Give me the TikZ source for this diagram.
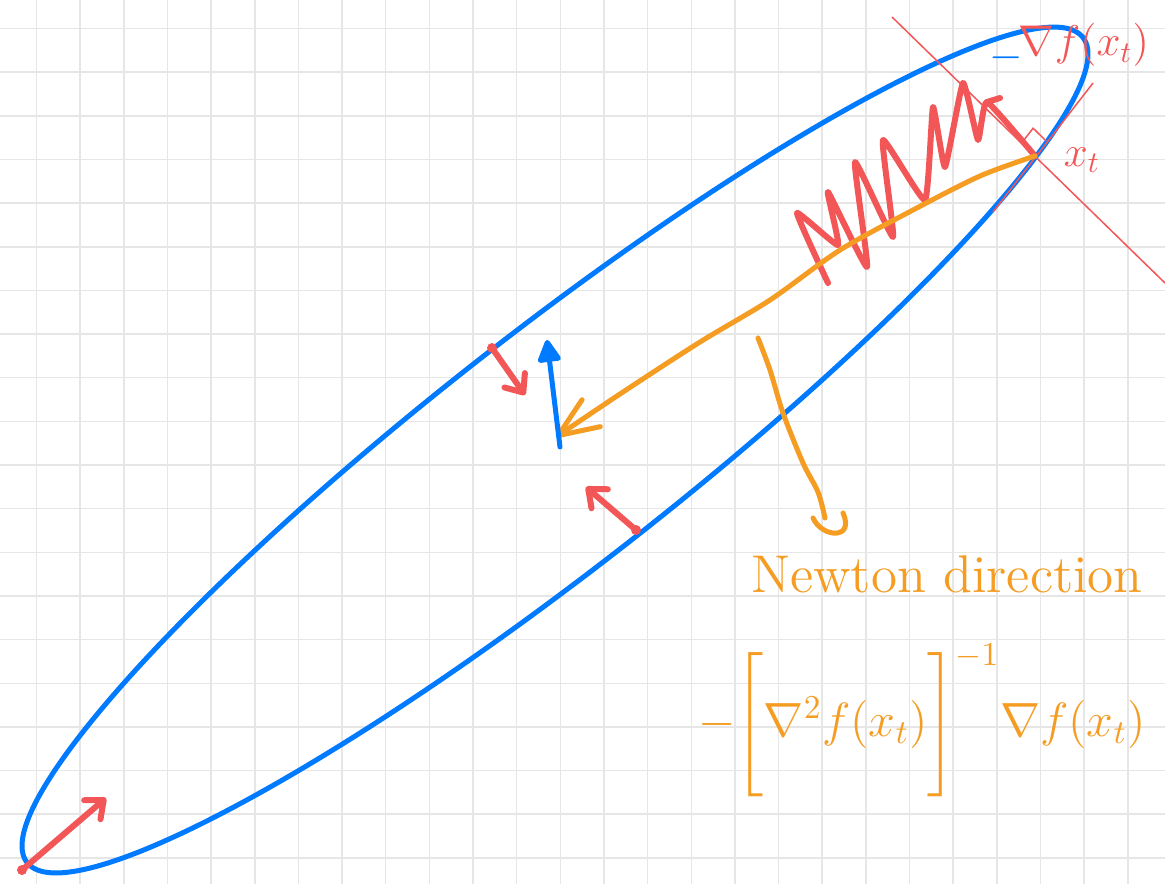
\documentclass[tikz,border=0pt]{standalone}
\usepackage{amsmath}
\usetikzlibrary{arrows.meta}
\definecolor{penblue}{RGB}{0,122,255}
\definecolor{penred}{RGB}{242,86,86}
\definecolor{penorange}{RGB}{245,157,35}
\definecolor{gridgray}{RGB}{230,230,230}

\begin{document}
\begin{tikzpicture}[x=0.2mm, y=-0.2mm,
  gridline/.style={draw=gridgray, line width=0.3mm},
  bluepen/.style={draw=penblue, line width=1mm, line cap=round, line join=round},
  redpen/.style={draw=penred, line width=1.2mm, line cap=round, line join=round},
  orangepen/.style={draw=penorange, line width=1mm, line cap=round, line join=round},
  thinred/.style={draw=penred, line width=0.3mm},
  barb/.style={-{Straight Barb[length=3mm, width=5mm, round]}},
  dot/.style={circle, fill=penred, inner sep=0pt, minimum size=2mm},
  hand/.style={inner sep=0pt, font=\Large}]

\useasboundingbox (0,0) rectangle (1165,884);
\fill[white] (0,0) rectangle (1165,884);

% --- squared paper
\foreach \i in {0,...,25}
  \draw[gridline] (36.5+43.65*\i,0) -- (36.5+43.65*\i,884);
\foreach \j in {0,...,19}
  \draw[gridline] (0,28.5+43.65*\j) -- (1165,28.5+43.65*\j);

% --- level set of f
\coordinate (ctr) at (555,450);
\draw[bluepen, rotate around={38:(ctr)}] (ctr) ellipse [x radius=670, y radius=118];

% --- current iterate, tangent and normal
\coordinate (xt) at (1035,156);
\draw[thinred] (993,212) -- (1093,83);
\draw[thinred] (892,17) -- (1165,283);
\draw[thinred] (1046,140.8) -- (1033.1,128.2) -- (1022.1,142.4);

% --- gradient steps zig-zag down the valley
\draw[redpen] plot[smooth, tension=0.25] coordinates {(xt) (987,102) (978,140)
  (963,83) (945,167) (933,107) (925,200) (883,140) (893,237) (855,162)
  (867,267) (828,192) (838,245) (797,213) (828,283)};
\draw[redpen] (987,102) -- (1000,98);

% --- Newton step straight to the centre
\draw[orangepen, -{Straight Barb[length=8mm, width=6.5mm, round]}] plot[smooth, tension=0.5]
  coordinates {(xt) (980,176) (913,210) (840,250) (770,300) (700,342) (623,392) (556,437)};
\draw[bluepen, -{Triangle[length=5mm, width=5mm, round]}] (560,447) -- (547,340);

% --- normals on the ellipse
\node[dot] (ptup) at (492,348) {};
\node[dot] (ptlow) at (636,530) {};
\node[dot] (pttip) at (22,870) {};
\coordinate (upend) at (525,395);
\coordinate (lowend) at (586,487);
\coordinate (tipend) at (106,798);
\draw[redpen, barb] (ptup.center) -- (upend);
\draw[redpen, barb] (ptlow.center) -- (lowend);
\draw[redpen, barb] (pttip.center) -- (tipend);

% --- labels
\node[hand, text=penblue, scale=1.7] (minus) at (1006,58) {$-$};
\node[hand, text=penred, scale=1.7] (gradlbl) at (1084,45) {$\nabla f(x_t)$};
\node[hand, text=penred, scale=1.7] (xtlbl) at (1082,160) {$x_t$};

\draw[orangepen] plot[smooth] coordinates {(758,338) (770,370) (783,413) (803,463) (818,492) (825,518)};
\draw[orangepen] (813,518) .. controls (822,538) and (855,540) .. (843,513);

\node[hand, text=penorange, scale=2.1] (newton) at (947,574) {Newton direction};
\node[hand, text=penorange, scale=1.9] (newtonfml) at (922,720)
  {$-\Bigg[\nabla^2 f(x_t)\Bigg]^{-1}\nabla f(x_t)$};
\end{tikzpicture}
\end{document}
